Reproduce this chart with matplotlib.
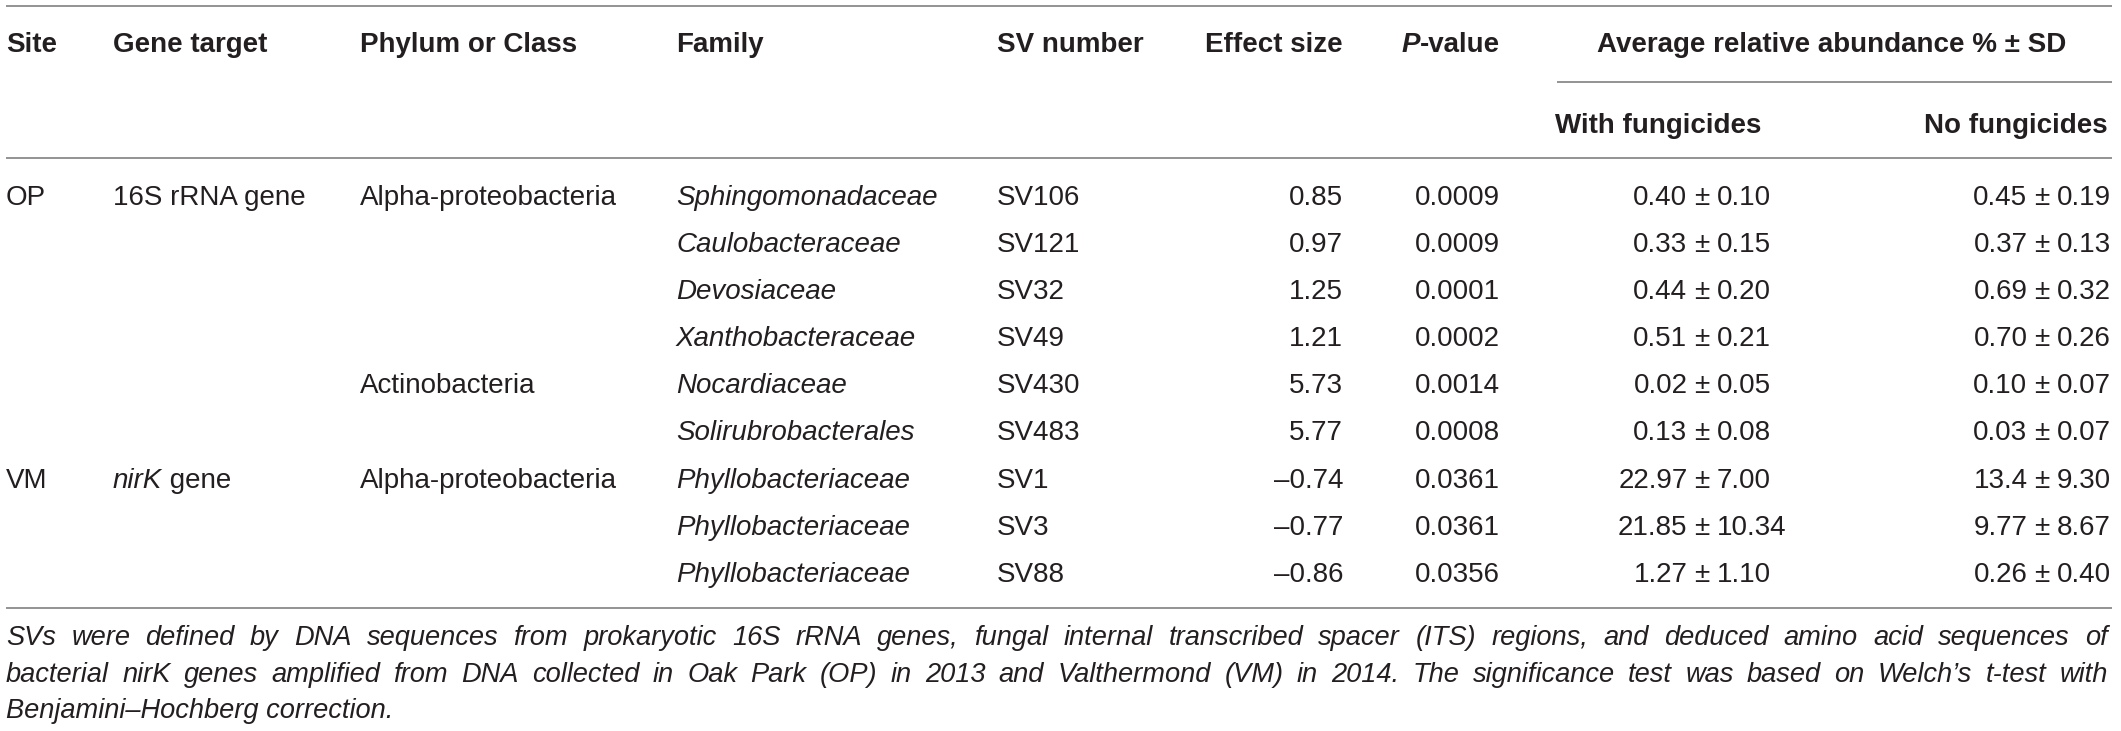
import numpy as np
import matplotlib
matplotlib.use('Agg')
import matplotlib.pyplot as plt

# Table data
sites = ['OP', '', '', '', '', '', 'VM', '', '']
genes = ['16S rRNA gene', '', '', '', '', '', 'nirK gene', '', '']
phyla = ['Alpha-proteobacteria', '', '', '', 'Actinobacteria', '',
         'Alpha-proteobacteria', '', '']
families = ['Sphingomonadaceae', 'Caulobacteraceae', 'Devosiaceae', 'Xanthobacteraceae',
            'Nocardiaceae', 'Solirubrobacterales', 'Phyllobacteriaceae',
            'Phyllobacteriaceae', 'Phyllobacteriaceae']
sv_numbers = ['SV106', 'SV121', 'SV32', 'SV49', 'SV430', 'SV483', 'SV1', 'SV3', 'SV88']
effect_size = [0.85, 0.97, 1.25, 1.21, 5.73, 5.77, -0.74, -0.77, -0.86]
p_values = ['0.0009', '0.0009', '0.0001', '0.0002', '0.0014', '0.0008', '0.0361', '0.0361', '0.0356']
with_mean = ['0.40', '0.33', '0.44', '0.51', '0.02', '0.13', '22.97', '21.85', '1.27']
with_sd = ['0.10', '0.15', '0.20', '0.21', '0.05', '0.08', '7.00', '10.34', '1.10']
no_mean = ['0.45', '0.37', '0.69', '0.70', '0.10', '0.03', '13.4', '9.77', '0.26']
no_sd = ['0.19', '0.13', '0.32', '0.26', '0.07', '0.07', '9.30', '8.67', '0.40']

footnote = ["SVs were defined by DNA sequences from prokaryotic 16S rRNA genes, fungal internal transcribed spacer (ITS) regions, and deduced amino acid sequences of",
            "bacterial nirK genes amplified from DNA collected in Oak Park (OP) in 2013 and Valthermond (VM) in 2014. The significance test was based on Welch\u2019s t-test with",
            "Benjamini\u2013Hochberg correction."]

W, H = 2121, 731
plt.rcParams['font.family'] = ['Liberation Sans', 'DejaVu Sans']
fig = plt.figure(figsize=(W / 100, H / 100), dpi=100)
ax = fig.add_axes([0, 0, 1, 1])
ax.set_xlim(0, W)
ax.set_ylim(H, 0)
ax.axis('off')

txt = '#231f20'
line_c = '#8a8a8a'
fs = 20
fs_note = 19.6

# horizontal rules
for y, x0 in [(5.5, 6), (82, 1557), (158, 6), (607.5, 6)]:
    ax.plot([x0, 2112], [y, y], color=line_c, lw=1.3, solid_capstyle='butt')

fig.canvas.draw()
r = fig.canvas.get_renderer()

# header
hy = 52
hkw = dict(fontsize=fs, fontweight='bold', color=txt, va='baseline')
ax.text(6, hy, 'Site', ha='left', **hkw)
ax.text(113, hy, 'Gene target', ha='left', **hkw)
ax.text(360, hy, 'Phylum or Class', ha='left', **hkw)
ax.text(676, hy, 'Family', ha='left', **hkw)
ax.text(997, hy, 'SV number', ha='left', **hkw)
ax.text(1343, hy, 'Effect size', ha='right', **hkw)
pv = ax.text(1500, hy, '-value', ha='right', **hkw)
bb = pv.get_window_extent(r)
ax.text(bb.x0, hy, 'P', ha='right', style='italic', **hkw)
ax.text(1832, hy, 'Average relative abundance % \u00b1 SD', ha='center', **hkw)
ax.text(1555, 133, 'With fungicides', ha='left', **hkw)
ax.text(2108, 133, 'No fungicides', ha='right', **hkw)

# body rows
kw = dict(fontsize=fs, color=txt, va='baseline')
y0, dy = 205, 47.1
for i in range(len(families)):
    y = y0 + i * dy
    ax.text(6, y, sites[i], ha='left', **kw)
    if genes[i].startswith('nirK'):
        g = ax.text(113, y, 'nirK', ha='left', style='italic', **kw)
        gb = g.get_window_extent(r)
        ax.text(gb.x1, y, ' gene', ha='left', **kw)
    else:
        ax.text(113, y, genes[i], ha='left', **kw)
    ax.text(360, y, phyla[i], ha='left', **kw)
    ax.text(676, y, families[i], ha='left', style='italic', **kw)
    ax.text(997, y, sv_numbers[i], ha='left', **kw)
    ax.text(1343, y, ('%.2f' % effect_size[i]).replace('-', '\u2013'), ha='right', **kw)
    ax.text(1500, y, p_values[i], ha='right', **kw)
    # mean ± sd, lined up on the ± sign
    for pm_x, m, s in [(1702, with_mean[i], with_sd[i]), (2042, no_mean[i], no_sd[i])]:
        ax.text(pm_x, y, '\u00b1', ha='center', **kw)
        ax.text(pm_x - 14.5, y, m, ha='right', **kw)
        ax.text(pm_x + 14.5, y, s, ha='left', **kw)

# footnote, first two lines justified
nkw = dict(fontsize=fs_note, color=txt, va='baseline', style='italic')
left, right = 6, 2108
for k, line in enumerate(footnote):
    y = 645 + k * 36.6
    if k == len(footnote) - 1:
        ax.text(left, y, line, ha='left', **nkw)
        continue
    words = line.split(' ')
    arts = [ax.text(0, y, w_, ha='left', **nkw) for w_ in words]
    widths = [a.get_window_extent(r).width for a in arts]
    gap = (right - left - sum(widths)) / (len(words) - 1)
    x = left
    for a, wd in zip(arts, widths):
        a.set_x(x)
        x += wd + gap

fig.savefig('out.png', dpi=100, facecolor='white')
